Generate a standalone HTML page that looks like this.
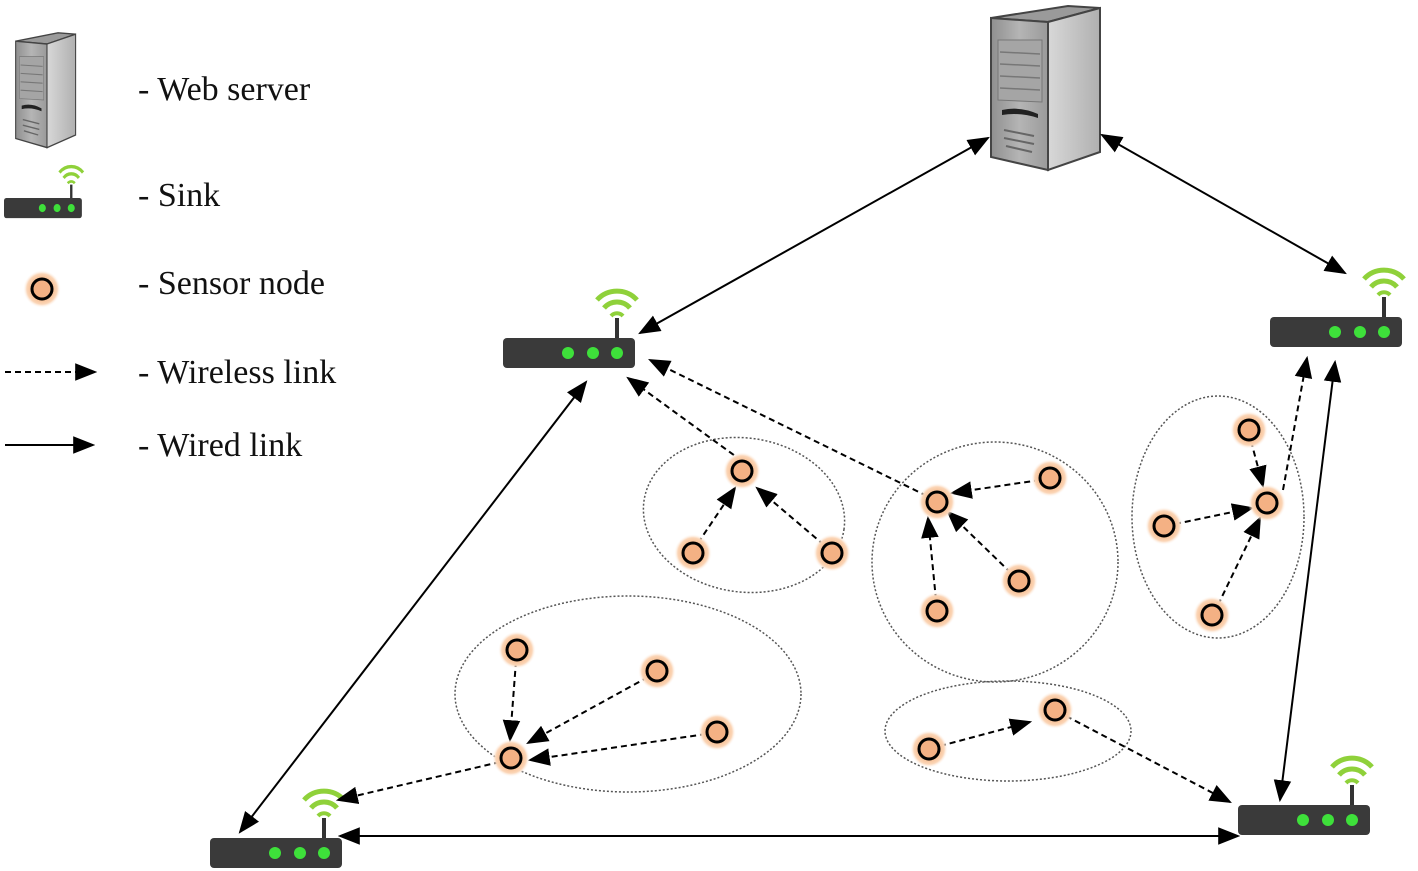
<!DOCTYPE html>
<html><head><meta charset="utf-8"><style>
html,body{margin:0;padding:0;background:#fff;}
svg{display:block;}
text{font-family:"Liberation Serif",serif;font-size:34px;fill:#111;}
</style></head><body>
<svg width="1418" height="871" viewBox="0 0 1418 871" xmlns="http://www.w3.org/2000/svg">
<defs>
<marker id="a" viewBox="0 0 10 10" refX="9" refY="5" markerWidth="22" markerHeight="22" markerUnits="userSpaceOnUse" orient="auto-start-reverse">
<path d="M0,1 L10,5 L0,9 z" fill="#000"/></marker>
<radialGradient id="glow"><stop offset="0.5" stop-color="#f6b98a"/><stop offset="0.8" stop-color="#fbd6b8"/><stop offset="1" stop-color="#fff" stop-opacity="0"/></radialGradient>
<linearGradient id="front" x1="0" x2="1"><stop offset="0" stop-color="#8f8f8f"/><stop offset="0.5" stop-color="#b5b5b5"/><stop offset="1" stop-color="#9a9a9a"/></linearGradient>
<linearGradient id="side" x1="0" x2="1"><stop offset="0" stop-color="#d8d8d8"/><stop offset="1" stop-color="#b0b0b0"/></linearGradient>
<g id="sink">
<path d="M94,-38 A27,27 0 0 1 134,-38" fill="none" stroke="#8fd13a" stroke-width="5"/>
<path d="M101,-30 A17,17 0 0 1 127,-30" fill="none" stroke="#8fd13a" stroke-width="5"/>
<path d="M108,-22 A8,8 0 0 1 120,-22" fill="none" stroke="#8fd13a" stroke-width="4"/>
<rect x="112" y="-20" width="4" height="22" fill="#333"/>
<rect x="0" y="0" width="132" height="30" rx="4" fill="#3a3a3a"/>
<circle cx="65" cy="15" r="6" fill="#3ee03a"/><circle cx="90" cy="15" r="6" fill="#3ee03a"/><circle cx="114" cy="15" r="6" fill="#3ee03a"/>
</g>
<g id="node"><circle r="19" fill="url(#glow)"/><circle r="10" fill="#f4b184" stroke="#000" stroke-width="3"/></g>
<g id="server">
<path d="M3,16 L80,4 L112,6 L60,20 z" fill="#9a9a9a" stroke="#444" stroke-width="2"/>
<path d="M3,16 L60,20 L60,168 L3,155 z" fill="url(#front)" stroke="#444" stroke-width="2"/>
<path d="M60,20 L112,6 L112,150 L60,168 z" fill="url(#side)" stroke="#444" stroke-width="2"/>
<path d="M10,38 L54,38 L54,100 L10,98 z" fill="#a5a5a5" stroke="#777"/>
<path d="M12,50 L52,52 M12,62 L52,64 M12,74 L52,76 M12,86 L52,88" stroke="#777" stroke-width="1.5"/>
<path d="M14,108 Q32,104 50,112 L50,116 Q32,110 14,113 z" fill="#222"/>
<path d="M16,128 L46,134 M16,136 L46,142 M18,144 L44,150" stroke="#666" stroke-width="2"/>
</g>
</defs>

<use href="#server" transform="translate(14,30) scale(0.55,0.7)"/>
<use href="#sink" transform="translate(4,198) scale(0.59,0.67)"/>
<use href="#node" transform="translate(42,289)"/>
<text x="138" y="100">- Web server</text>
<text x="138" y="206">- Sink</text>
<text x="138" y="294">- Sensor node</text>
<text x="138" y="383">- Wireless link</text>
<text x="138" y="456">- Wired link</text>
<line x1="5" y1="372" x2="95" y2="372" stroke="#000" stroke-width="2" stroke-dasharray="6,4" marker-end="url(#a)"/>
<line x1="5" y1="445" x2="93" y2="445" stroke="#000" stroke-width="2" marker-end="url(#a)"/>

<g fill="none" stroke="#555" stroke-width="1.5" stroke-dasharray="2,2">
<ellipse cx="744" cy="515" rx="101" ry="77" transform="rotate(8 744 515)"/>
<ellipse cx="995" cy="562" rx="123" ry="120"/>
<ellipse cx="1218" cy="517" rx="86" ry="121"/>
<ellipse cx="628" cy="694" rx="173" ry="98"/>
<ellipse cx="1008" cy="731" rx="123" ry="50"/>
</g>

<use href="#server" transform="translate(988,2)"/>
<use href="#sink" transform="translate(503,338)"/>
<use href="#sink" transform="translate(1270,317)"/>
<use href="#sink" transform="translate(1238,805)"/>
<use href="#sink" transform="translate(210,838)"/>

<g stroke="#000" stroke-width="2" fill="none" marker-end="url(#a)" marker-start="url(#a)">
<line x1="640" y1="333" x2="988" y2="138"/>
<line x1="1102" y1="135" x2="1345" y2="273"/>
<line x1="586" y1="382" x2="240" y2="832"/>
<line x1="1335" y1="362" x2="1280" y2="800"/>
<line x1="340" y1="836" x2="1238" y2="836"/>
</g>

<g stroke="#000" stroke-width="2" fill="none" stroke-dasharray="6,4" marker-end="url(#a)">
<line x1="742" y1="461" x2="628" y2="378"/>
<line x1="927" y1="496" x2="650" y2="360"/>
<line x1="698" y1="543" x2="735" y2="488"/>
<line x1="824" y1="545" x2="757" y2="488"/>
<line x1="1040" y1="480" x2="952" y2="493"/>
<line x1="1011" y1="573" x2="948" y2="512"/>
<line x1="936" y1="600" x2="928" y2="518"/>
<line x1="1251" y1="441" x2="1263" y2="486"/>
<line x1="1175" y1="524" x2="1252" y2="508"/>
<line x1="1218" y1="605" x2="1260" y2="518"/>
<line x1="1283" y1="490" x2="1307" y2="358"/>
<line x1="516" y1="661" x2="510" y2="740"/>
<line x1="648" y1="677" x2="528" y2="743"/>
<line x1="706" y1="734" x2="530" y2="760"/>
<line x1="500" y1="762" x2="338" y2="800"/>
<line x1="940" y1="746" x2="1030" y2="722"/>
<line x1="1066" y1="716" x2="1230" y2="802"/>
</g>

<use href="#node" transform="translate(742,471)"/>
<use href="#node" transform="translate(693,553)"/>
<use href="#node" transform="translate(832,553)"/>
<use href="#node" transform="translate(937,502)"/>
<use href="#node" transform="translate(1050,478)"/>
<use href="#node" transform="translate(1019,581)"/>
<use href="#node" transform="translate(937,611)"/>
<use href="#node" transform="translate(1249,430)"/>
<use href="#node" transform="translate(1267,503)"/>
<use href="#node" transform="translate(1164,526)"/>
<use href="#node" transform="translate(1212,615)"/>
<use href="#node" transform="translate(517,650)"/>
<use href="#node" transform="translate(657,671)"/>
<use href="#node" transform="translate(717,732)"/>
<use href="#node" transform="translate(511,758)"/>
<use href="#node" transform="translate(929,749)"/>
<use href="#node" transform="translate(1055,710)"/>
</svg>
</body></html>
